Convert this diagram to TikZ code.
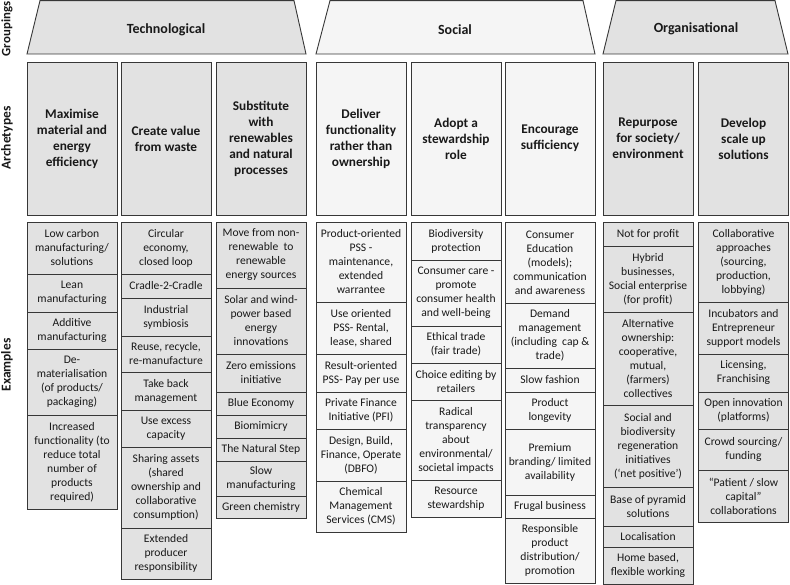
\documentclass[tikz,border=0pt]{standalone}
\usepackage{fontspec}
\setmainfont{Carlito}
\usetikzlibrary{positioning}
\definecolor{boxgray}{RGB}{226,226,226}
\definecolor{boxlight}{RGB}{245,245,245}
\definecolor{edgegray}{RGB}{55,55,55}
\tikzset{
  cell/.style={draw=edgegray, line width=0.9pt, minimum width=90pt, inner sep=0pt, outer sep=0pt, align=center, text=black!90},
  ex/.style={cell, anchor=north, font=\fontsize{11.6}{14}\selectfont},
  exdark/.style={ex, fill=boxgray},
  exlight/.style={ex, fill=boxlight},
  arch/.style={cell, anchor=north, minimum height=153pt, font=\bfseries\fontsize{13.3}{16}\selectfont},
  trap/.style={draw=edgegray, line width=0.9pt},
  group/.style={text=black!90, font=\bfseries\fontsize{14}{17}\selectfont},
  side/.style={rotate=90, text=black!90, font=\bfseries\fontsize{13.5}{16}\selectfont}
}
\begin{document}
\begin{tikzpicture}[x=1pt,y=-1pt]
  \useasboundingbox (0,0) rectangle (790,585);
  \node[side, font=\bfseries\fontsize{12.8}{15}\selectfont] (groupings) at (7,29) {Groupings};
  \node[side] (archetypes) at (7,138) {Archetypes};
  \node[side] (examples) at (7,365) {Examples};

  \draw[trap, fill=boxgray] (27,54) -- (40,0.6) -- (294,0.6) -- (306,54) -- cycle;
  \node[group] (technological) at (166,30) {Technological};
  \draw[trap, fill=boxlight] (316,54) -- (330,0.6) -- (583,0.6) -- (595,54) -- cycle;
  \node[group] (social) at (455,30) {Social};
  \draw[trap, fill=boxgray] (603,54) -- (616,0.6) -- (775,0.6) -- (788,54) -- cycle;
  \node[group] (organisational) at (696,29) {Organisational};

  \node[arch, fill=boxgray] (maximise) at (72,62) {Maximise\\material and\\energy\\efficiency};
  \node[arch, fill=boxgray] (waste) at (166,62) {Create value\\from waste};
  \node[arch, fill=boxgray] (substitute) at (261,62) {Substitute\\with\\renewables\\and natural\\processes};
  \node[arch, fill=boxlight] (deliver) at (361,62) {Deliver\\functionality\\rather than\\ownership};
  \node[arch, fill=boxlight] (stewardship) at (456,62) {Adopt a\\stewardship\\role};
  \node[arch, fill=boxlight] (sufficiency) at (550,62) {Encourage\\sufficiency};
  \node[arch, fill=boxgray] (repurpose) at (648,62) {Repurpose\\for society/\\environment};
  \node[arch, fill=boxgray] (scaleup) at (743.5,62) {Develop\\scale up\\solutions};

  \node[exdark, minimum height=52pt] (lowcarbon) at (72,222) {Low carbon\\manufacturing/\\solutions};
  \node[exdark, minimum height=38pt, below=0pt of lowcarbon] (lean) {Lean\\manufacturing};
  \node[exdark, minimum height=37pt, below=0pt of lean] (additive) {Additive\\manufacturing};
  \node[exdark, minimum height=66pt, below=0pt of additive] (demat) {De-\\materialisation\\(of products/\\packaging)};
  \node[exdark, minimum height=94pt, below=0pt of demat] (functionality) {Increased\\functionality (to\\reduce total\\number of\\products\\required)};

  \node[exdark, minimum height=52pt] (circular) at (166,222) {Circular\\economy,\\closed loop};
  \node[exdark, minimum height=24pt, below=0pt of circular] (cradle) {Cradle-2-Cradle};
  \node[exdark, minimum height=38pt, below=0pt of cradle] (symbiosis) {Industrial\\symbiosis};
  \node[exdark, minimum height=36pt, below=0pt of symbiosis] (reuse) {Reuse, recycle,\\re-manufacture};
  \node[exdark, minimum height=38pt, below=0pt of reuse] (takeback) {Take back\\management};
  \node[exdark, minimum height=37pt, below=0pt of takeback] (excess) {Use excess\\capacity};
  \node[exdark, minimum height=81pt, below=0pt of excess] (sharing) {Sharing assets\\(shared\\ownership and\\collaborative\\consumption)};
  \node[exdark, minimum height=51pt, below=0pt of sharing] (producer) {Extended\\producer\\responsibility};

  \node[exdark, minimum height=66pt] (nonrenew) at (261,222) {Move from non-\\renewable~~to\\renewable\\energy sources};
  \node[exdark, minimum height=66pt, below=0pt of nonrenew] (solar) {Solar and wind-\\power based\\energy\\innovations};
  \node[exdark, minimum height=38pt, below=0pt of solar] (zero) {Zero emissions\\initiative};
  \node[exdark, minimum height=23pt, below=0pt of zero] (blue) {Blue Economy};
  \node[exdark, minimum height=23pt, below=0pt of blue] (biomimicry) {Biomimicry};
  \node[exdark, minimum height=23pt, below=0pt of biomimicry] (natstep) {The Natural Step};
  \node[exdark, minimum height=35pt, below=0pt of natstep] (slowmanu) {Slow\\manufacturing};
  \node[exdark, minimum height=22pt, below=0pt of slowmanu] (green) {Green chemistry};

  \node[exlight, minimum height=80pt] (productpss) at (361,222) {Product-oriented\\PSS -\\maintenance,\\extended\\warrantee};
  \node[exlight, minimum height=52pt, below=0pt of productpss] (usepss) {Use oriented\\PSS- Rental,\\lease, shared};
  \node[exlight, minimum height=38pt, below=0pt of usepss] (resultpss) {Result-oriented\\PSS- Pay per use};
  \node[exlight, minimum height=37pt, below=0pt of resultpss] (pfi) {Private Finance\\Initiative (PFI)};
  \node[exlight, minimum height=52pt, below=0pt of pfi] (dbfo) {Design, Build,\\Finance, Operate\\(DBFO)};
  \node[exlight, minimum height=51pt, below=0pt of dbfo] (cms) {Chemical\\Management\\Services (CMS)};

  \node[exlight, minimum height=38pt] (biodiv) at (456,222) {Biodiversity\\protection};
  \node[exlight, minimum height=66pt, below=0pt of biodiv] (care) {Consumer care -\\promote\\consumer health\\and well-being};
  \node[exlight, minimum height=37pt, below=0pt of care] (ethical) {Ethical trade\\(fair trade)};
  \node[exlight, minimum height=37pt, below=0pt of ethical] (choice) {Choice editing by\\retailers};
  \node[exlight, minimum height=80pt, below=0pt of choice] (radical) {Radical\\transparency\\about\\environmental/\\societal impacts};
  \node[exlight, minimum height=37pt, below=0pt of radical] (resource) {Resource\\stewardship};

  \node[exlight, minimum height=81pt] (education) at (550,222) {Consumer\\Education\\(models);\\communication\\and awareness};
  \node[exlight, minimum height=65pt, below=0pt of education] (demand) {Demand\\management\\(including~~cap \&\\trade)};
  \node[exlight, minimum height=24pt, below=0pt of demand] (fashion) {Slow fashion};
  \node[exlight, minimum height=37pt, below=0pt of fashion] (longevity) {Product\\longevity};
  \node[exlight, minimum height=66pt, below=0pt of longevity] (premium) {Premium\\branding/ limited\\availability};
  \node[exlight, minimum height=23pt, below=0pt of premium] (frugal) {Frugal business};
  \node[exlight, minimum height=65pt, below=0pt of frugal] (distribution) {Responsible\\product\\distribution/\\promotion};

  \node[exdark, minimum height=24pt] (notprofit) at (648,222) {Not for profit};
  \node[exdark, minimum height=66pt, below=0pt of notprofit] (hybrid) {Hybrid\\businesses,\\Social enterprise\\(for profit)};
  \node[exdark, minimum height=93pt, below=0pt of hybrid] (ownership) {Alternative\\ownership:\\cooperative,\\mutual,\\(farmers)\\collectives};
  \node[exdark, minimum height=82pt, below=0pt of ownership] (regeneration) {Social and\\biodiversity\\regeneration\\initiatives\\(‘net positive’)};
  \node[exdark, minimum height=39pt, below=0pt of regeneration] (pyramid) {Base of pyramid\\solutions};
  \node[exdark, minimum height=21pt, below=0pt of pyramid] (localisation) {Localisation};
  \node[exdark, minimum height=37pt, below=0pt of localisation] (homebased) {Home based,\\flexible working};

  \node[exdark, minimum height=80pt] (collaborative) at (743.5,222) {Collaborative\\approaches\\(sourcing,\\production,\\lobbying)};
  \node[exdark, minimum height=52pt, below=0pt of collaborative] (incubators) {Incubators and\\Entrepreneur\\support models};
  \node[exdark, minimum height=38pt, below=0pt of incubators] (licensing) {Licensing,\\Franchising};
  \node[exdark, minimum height=37pt, below=0pt of licensing] (openinnov) {Open innovation\\(platforms)};
  \node[exdark, minimum height=41pt, below=0pt of openinnov] (crowd) {Crowd sourcing/\\funding};
  \node[exdark, minimum height=52pt, below=0pt of crowd] (patient) {“Patient / slow\\capital”\\collaborations};
\end{tikzpicture}
\end{document}
